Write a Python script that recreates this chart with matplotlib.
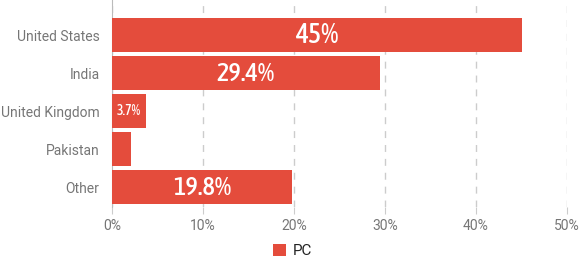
import matplotlib
matplotlib.use("Agg")
import matplotlib.pyplot as plt
from matplotlib import font_manager
from matplotlib.ticker import PercentFormatter

# data
countries = ["United States", "India", "United Kingdom", "Pakistan", "Other"]
pc_share = [45, 29.4, 3.7, 2.1, 19.8]
labels = ["45%", "29.4%", "3.7%", "", "19.8%"]
label_sizes = [20, 19, 10, 0, 19]

bar_color = "#E44C3C"
gray = "#757575"

# pick font files by name
files = [f.fname for f in font_manager.fontManager.ttflist]


def find(*keys):
    for k in keys:
        for fn in files:
            if k in fn.split("/")[-1]:
                return fn
    return None


label_file = find("Condensed-Medium", "CondensedMedium", "Condensed-SemiBold",
                  "Condensed-Regular", "Condensed.", "Narrow-Regular", "Narrow.")
tick_file = find("Roboto-Regular", "Roboto.", "Roboto[")


def fp(fname, size, family="Roboto"):
    if fname:
        return font_manager.FontProperties(fname=fname, size=size)
    return font_manager.FontProperties(family=family, size=size)


tick_font = fp(tick_file, 10)

fig = plt.figure(figsize=(5.8, 2.58), dpi=100)
ax = fig.add_axes([112 / 580, 1 - 207 / 258, 455 / 580, 207 / 258])

pos = list(range(len(countries)))
bars = ax.barh(pos, pc_share, height=0.89, color=bar_color, label="PC", zorder=3)

for b, txt, fs in zip(bars, labels, label_sizes):
    if txt:
        ax.text(b.get_x() + b.get_width() / 2, b.get_y() + b.get_height() / 2, txt,
                ha="center", va="center", color="white", zorder=4,
                fontproperties=fp(label_file, fs, "DejaVu Sans"))

ax.set_xlim(0, 50)
ax.set_ylim(4.52, -0.93)
ax.set_yticks(pos)
ax.set_yticklabels(countries, fontproperties=tick_font, color=gray)
ax.set_xticks([0, 10, 20, 30, 40, 50])
ax.xaxis.set_major_formatter(PercentFormatter(decimals=0))
for t in ax.get_xticklabels():
    t.set_fontproperties(tick_font)
    t.set_color(gray)

ax.grid(axis="x", color="#cccccc", linestyle=(0, (5, 5)), linewidth=1, zorder=0)
for s in ["top", "right", "bottom"]:
    ax.spines[s].set_visible(False)
ax.spines["left"].set_color("#bbbbbb")
ax.tick_params(axis="y", length=0, pad=9)
ax.tick_params(axis="x", length=5, color="#cccccc", pad=4)

fig.legend(*ax.get_legend_handles_labels(), loc="center",
           bbox_to_anchor=(293 / 580, 1 - 251 / 258), frameon=False,
           handlelength=0.8, handleheight=0.8, handletextpad=0.5,
           prop=fp(tick_file, 11), labelcolor="#222222")

fig.savefig("out.png", dpi=100)
